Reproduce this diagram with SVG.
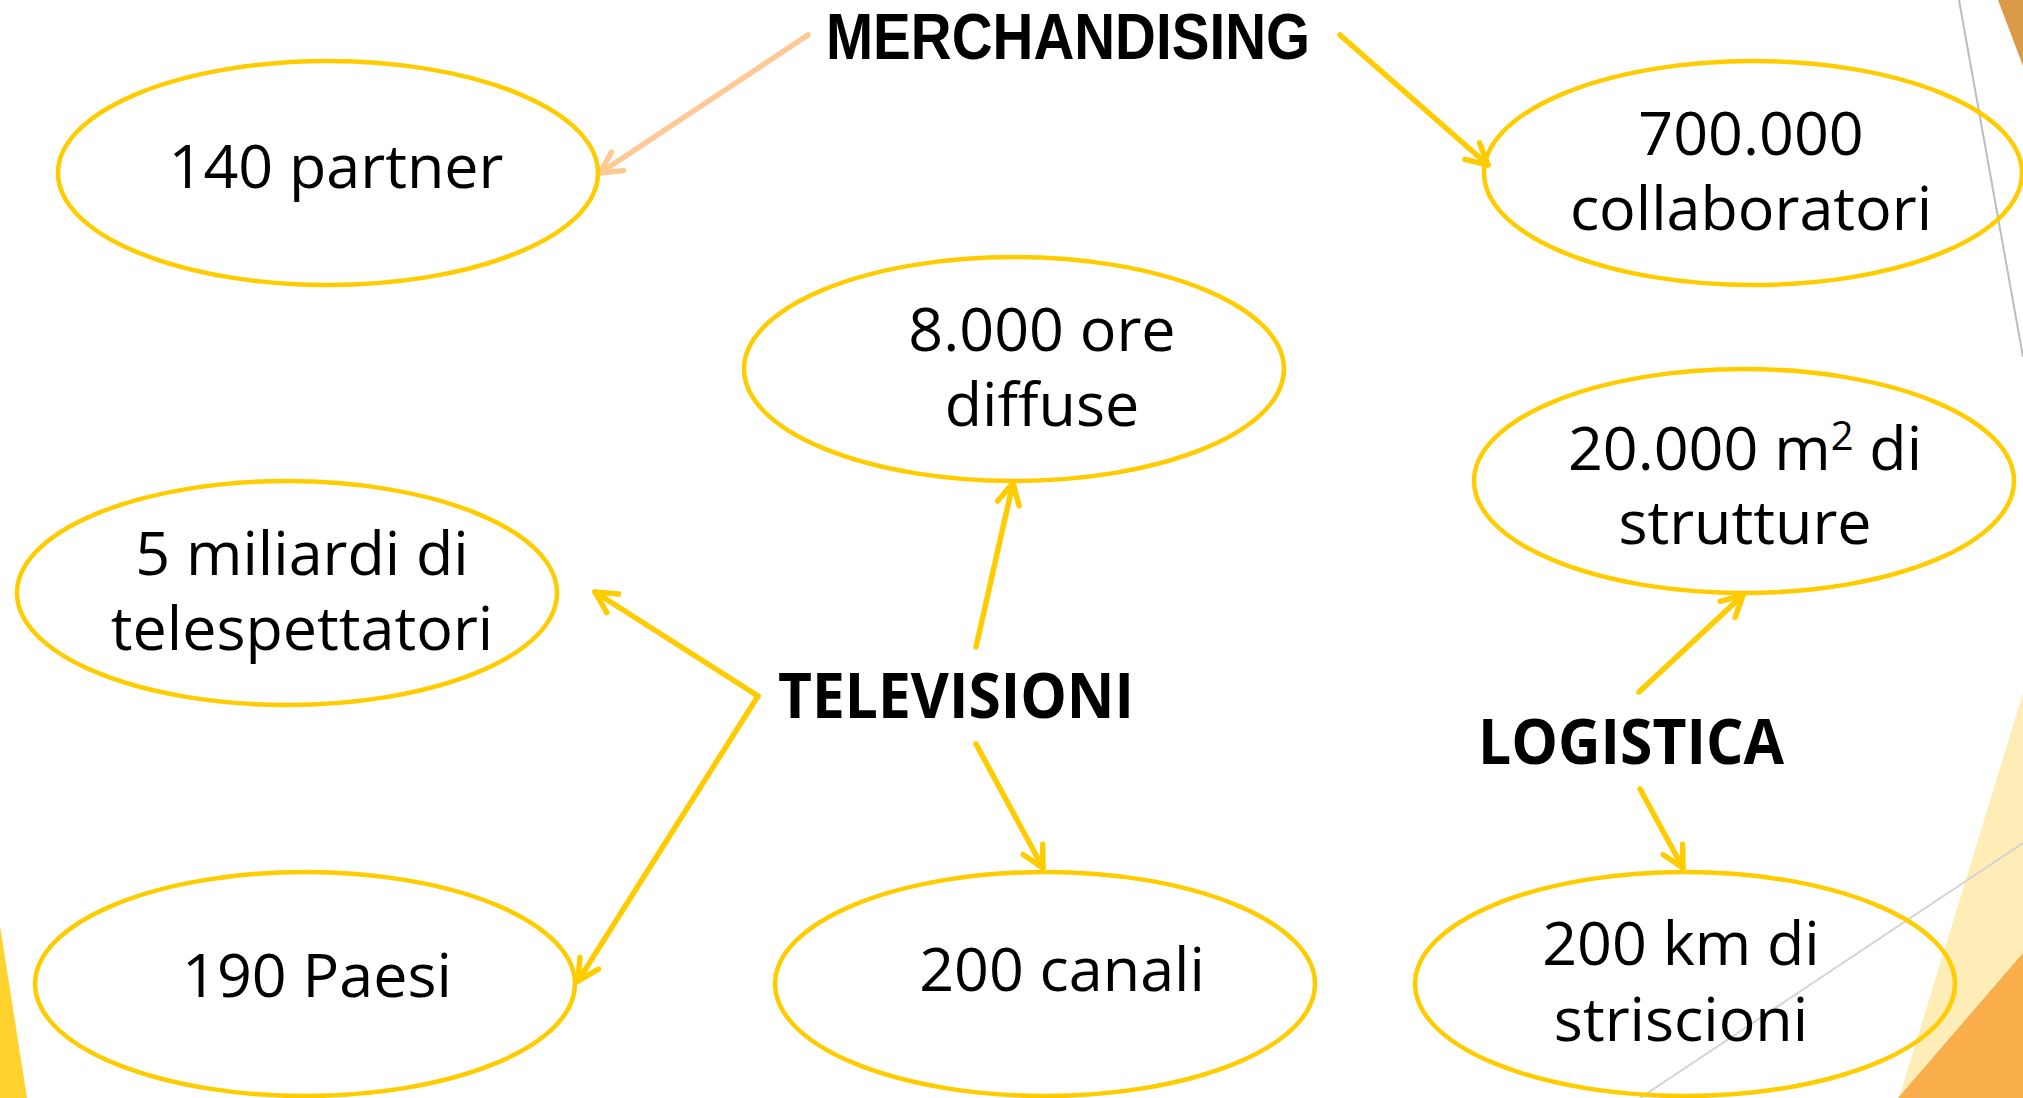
<svg xmlns="http://www.w3.org/2000/svg" width="2023" height="1098" viewBox="0 0 2023 1098">
<style>
.node ellipse{fill:none;stroke:#FFCC00;stroke-width:4.5}
.t{font-family:"Open Sans","Noto Sans","Liberation Sans",sans-serif;font-size:61px;fill:#000;text-anchor:middle}
.h{font-family:"Open Sans","Noto Sans","Liberation Sans",sans-serif;font-size:63px;font-weight:bold;fill:#000}
.hm{font-family:"Liberation Sans",Arial,sans-serif;font-size:64px;font-weight:bold;fill:#000}
.c{fill:none;stroke:#FFCC00;stroke-width:5.5;stroke-linecap:round}
.cp{fill:none;stroke:#FFC996;stroke-width:5.5;stroke-linecap:round}
</style>
<defs>
<marker id="ay" markerUnits="userSpaceOnUse" viewBox="-30 -15 35 30" markerWidth="35" markerHeight="30" refX="0" refY="0" orient="auto" overflow="visible">
<path d="M-21,-11 L0,0 L-21,11" fill="none" stroke="#FFCC00" stroke-width="5.5" stroke-linecap="round" stroke-linejoin="round"/>
</marker>
<marker id="ap" markerUnits="userSpaceOnUse" viewBox="-30 -15 35 30" markerWidth="35" markerHeight="30" refX="0" refY="0" orient="auto" overflow="visible">
<path d="M-21,-11 L0,0 L-21,11" fill="none" stroke="#FFC996" stroke-width="5.5" stroke-linecap="round" stroke-linejoin="round"/>
</marker>
</defs>
<rect width="2023" height="1098" fill="#fff"/>
<g id="background">
<polygon points="1998,0 2023,0 2023,66" fill="#DB9A48"/>
<line x1="1959" y1="0" x2="2023" y2="357" stroke="#BDBDBD" stroke-width="2"/>
<polygon points="2023,693 2023,1098 1899,1098" fill="#FEEDB6"/>
<polygon points="2023,953 2023,1098 1898,1098" fill="#F9AE4B"/>
<line x1="2023" y1="843" x2="1640" y2="1098" stroke="#D3D3D3" stroke-width="2"/>
<polygon points="0,926 27,1098 0,1098" fill="#FFD22E"/>
</g>
<g id="connectors">
<line class="cp" x1="808" y1="35" x2="600" y2="173" marker-end="url(#ap)"/>
<line class="c" x1="1340" y1="35" x2="1488" y2="165" marker-end="url(#ay)"/>
<line class="c" x1="976" y1="647" x2="1013" y2="483" marker-end="url(#ay)"/>
<line class="c" x1="976" y1="744" x2="1043" y2="868" marker-end="url(#ay)"/>
<line class="c" x1="758" y1="696" x2="595" y2="592" marker-end="url(#ay)"/>
<line class="c" x1="758" y1="696" x2="578" y2="981" marker-end="url(#ay)"/>
<line class="c" x1="1639" y1="692" x2="1743" y2="595" marker-end="url(#ay)"/>
<line class="c" x1="1640" y1="789" x2="1683" y2="868" marker-end="url(#ay)"/>
</g>
<g id="merchandising"><text class="hm" x="826" y="59" textLength="484" lengthAdjust="spacingAndGlyphs">MERCHANDISING</text></g>
<g id="televisioni"><text class="h" x="778" y="718" textLength="356" lengthAdjust="spacingAndGlyphs">TELEVISIONI</text></g>
<g id="logistica"><text class="h" x="1478" y="764" textLength="306" lengthAdjust="spacingAndGlyphs">LOGISTICA</text></g>
<g id="n-partner" class="node"><ellipse cx="328" cy="173" rx="270" ry="112"/><text class="t" x="336" y="188">140 partner</text></g>
<g id="n-collaboratori" class="node"><ellipse cx="1753" cy="173" rx="269" ry="112"/><text class="t" x="1751" y="155">700.000</text><text class="t" x="1751" y="230">collaboratori</text></g>
<g id="n-ore" class="node"><ellipse cx="1014" cy="369" rx="270" ry="112"/><text class="t" x="1042" y="351">8.000 ore</text><text class="t" x="1042" y="426">diffuse</text></g>
<g id="n-strutture" class="node"><ellipse cx="1744" cy="481" rx="270" ry="112"/><text class="t" x="1745" y="470">20.000 m<tspan font-size="40" dy="-20">2</tspan><tspan dy="20"> di</tspan></text><text class="t" x="1745" y="544">strutture</text></g>
<g id="n-telespettatori" class="node"><ellipse cx="287" cy="593" rx="270" ry="112"/><text class="t" x="302" y="575">5 miliardi di</text><text class="t" x="302" y="650">telespettatori</text></g>
<g id="n-paesi" class="node"><ellipse cx="305" cy="984" rx="270" ry="112"/><text class="t" x="317" y="997">190 Paesi</text></g>
<g id="n-canali" class="node"><ellipse cx="1045" cy="984" rx="270" ry="112"/><text class="t" x="1062" y="991">200 canali</text></g>
<g id="n-striscioni" class="node"><ellipse cx="1685" cy="984" rx="270" ry="112"/><text class="t" x="1681" y="965">200 km di</text><text class="t" x="1681" y="1041">striscioni</text></g>
</svg>
